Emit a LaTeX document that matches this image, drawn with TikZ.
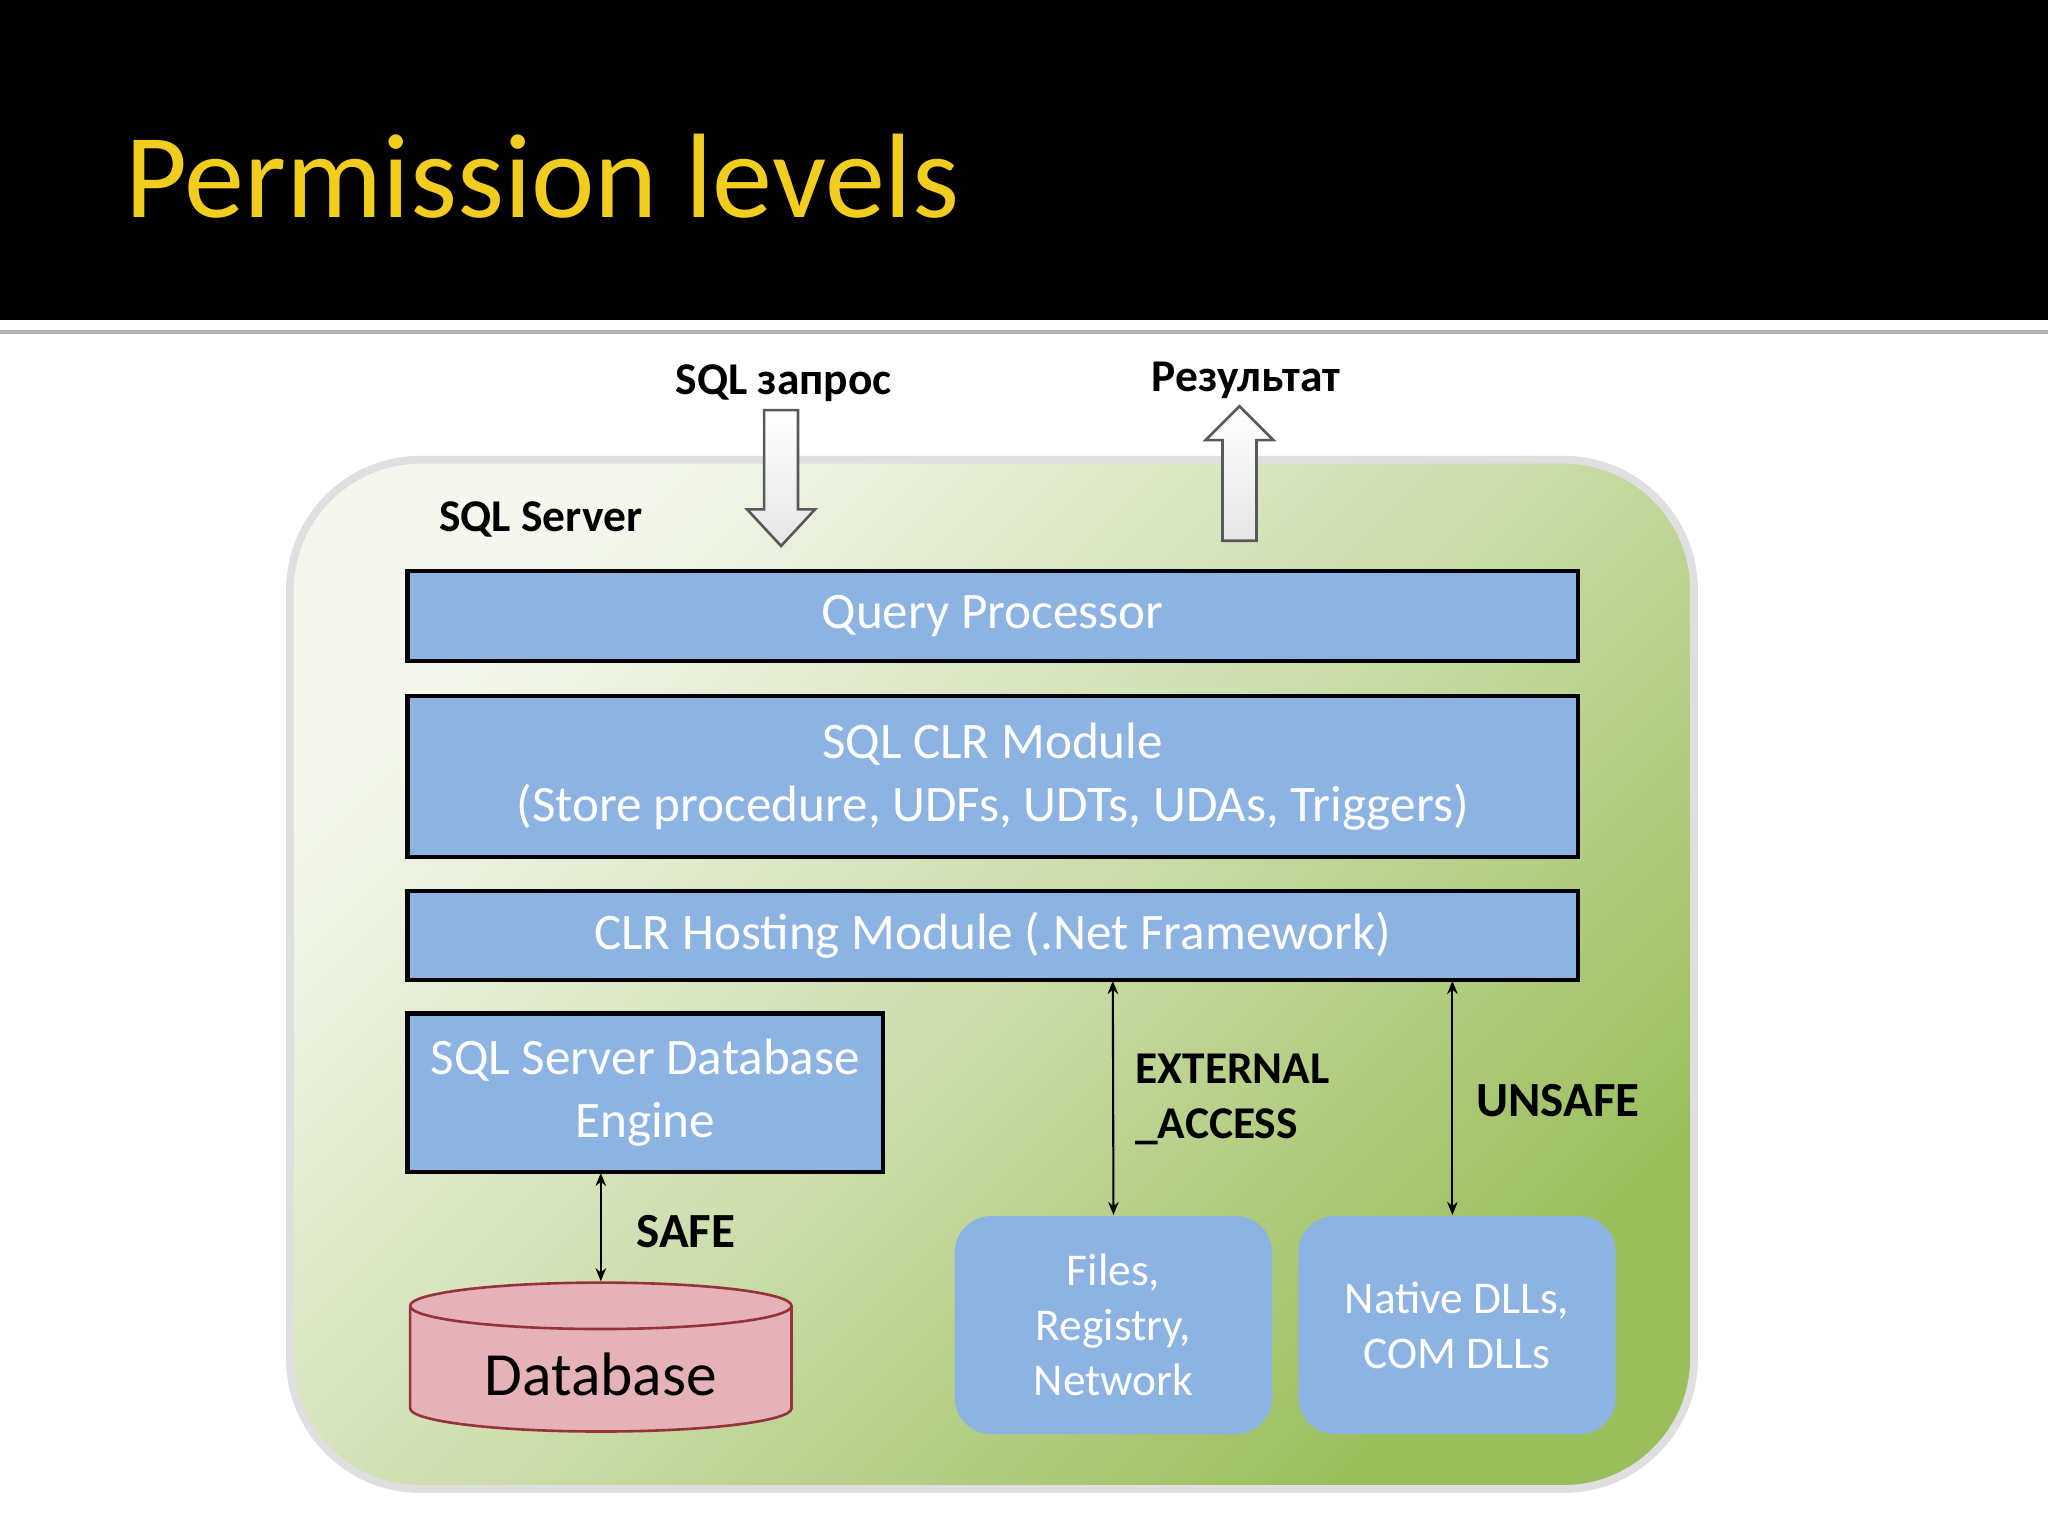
\documentclass[tikz,border=0pt]{standalone}
\usepackage{fontspec}
\setmainfont{Carlito}
\usetikzlibrary{shapes.geometric,arrows.meta}
\definecolor{boxblue}{RGB}{141,179,226}
\definecolor{dbpink}{RGB}{229,178,184}
\definecolor{dbred}{RGB}{150,50,60}
\definecolor{titleyel}{RGB}{240,205,30}
\definecolor{srvgreen}{RGB}{155,190,92}
\definecolor{srvlight}{RGB}{245,247,238}
\tikzset{every picture/.style={line width=0.75pt}}
\tikzset{
  layer/.style={draw=black,line width=1.6pt,fill=boxblue,text=white,font=\fontsize{19.6}{23}\selectfont,align=center,inner sep=0pt},
  ext/.style={fill=boxblue,rounded corners=14pt,text=white,font=\fontsize{17.4}{20}\selectfont,align=center,inner sep=0pt,minimum width=121.5pt,minimum height=83.5pt},
  lbl/.style={font=\bfseries\fontsize{17.4}{20}\selectfont,inner sep=0.75pt},
  big lbl/.style={lbl,font=\bfseries\fontsize{18.8}{22}\selectfont},
  perm/.style={{Stealth[length=5pt,width=4pt]}-{Stealth[length=5pt,width=4pt]},line width=0.8pt},
  blockarrow/.style={draw=gray!70!black,line width=1pt,top color=white,bottom color=gray!20},
}
\begin{document}
\begin{tikzpicture}[x=0.5pt,y=0.5pt,yscale=-1,xscale=1]
\useasboundingbox (0,0) rectangle (1568,1176);
%Background
\fill[white] (0,0) rectangle (1568,1176);
\fill[black] (0,0) rectangle (1568,245);
\draw[gray!60,line width=1.5pt] (0,254) -- (1568,254);
% Text Node
\node[anchor=west,text=titleyel,font=\fontsize{46}{50}\selectfont,inner sep=0pt] (title) at (95,135) {Permission levels};

%Shape: Rounded Rect
\draw[gray!25,line width=3pt,rounded corners=50pt,left color=srvlight,right color=srvgreen,middle color=srvgreen!45!srvlight,shading angle=45] (222,352) rectangle (1297,1140);
% Text Node
\node[lbl,anchor=west] (server) at (334,398) {SQL Server};

%Layers
\node[layer,minimum width=448pt,minimum height=34.5pt] (qp) at (760,471.5) {Query Processor};
\node[layer,minimum width=448pt,minimum height=61.5pt] (clr) at (760,594.5) {SQL CLR Module\\[1pt](Store procedure, UDFs, UDTs, UDAs, Triggers)};
\node[layer,minimum width=182pt,minimum height=60.5pt] (engine) at (494,836.5) {SQL Server Database\\[1pt]Engine};
\node[layer,minimum width=448pt,minimum height=34pt] (host) at (760,716) {CLR Hosting Module (.Net Framework)};

%Shape: Cylinder
\node[cylinder,shape border rotate=90,aspect=0.2,draw=dbred,line width=1pt,fill=dbpink,minimum width=146pt,minimum height=57pt,inner sep=0pt,font=\fontsize{23.5}{26}\selectfont,anchor=south] (db) at (460,1097) {\raisebox{-20pt}{Database}};

%External boxes
\node[ext] (files) at (852.5,1014.5) {Files,\\[1pt]Registry,\\[1pt]Network};
\node[ext] (native) at (1115.5,1014.5) {Native DLLs,\\[1pt]COM DLLs};

%Permission arrows
\coordinate (safeA) at (460,898);
\draw[perm] (safeA) -- (db.north -| safeA);
\coordinate (extA) at (852,751);
\draw[perm] (extA) -- (files.north);
\coordinate (unsA) at (1112,751);
\draw[perm] (unsA) -- (unsA |- native.north);
\node[big lbl,anchor=west] (safe) at (485,943) {SAFE};
\node[lbl,anchor=west,align=left] (external) at (867,842) {EXTERNAL\\[1pt]\_ACCESS};
\node[big lbl,anchor=west] (unsafe) at (1128,843) {UNSAFE};

%Block arrows
\draw[blockarrow] (585,314) -- (611,314) -- (611,390) -- (624,390) -- (598,418) -- (572,390) -- (585,390) -- cycle;
\draw[blockarrow] (936,414) -- (962,414) -- (962,337) -- (975,337) -- (949,311) -- (923,337) -- (936,337) -- cycle;
\node[lbl] (querytext) at (600,293) {SQL запрос};
\node[lbl] (resulttext) at (954,291) {Результат};
\end{tikzpicture}
\end{document}
